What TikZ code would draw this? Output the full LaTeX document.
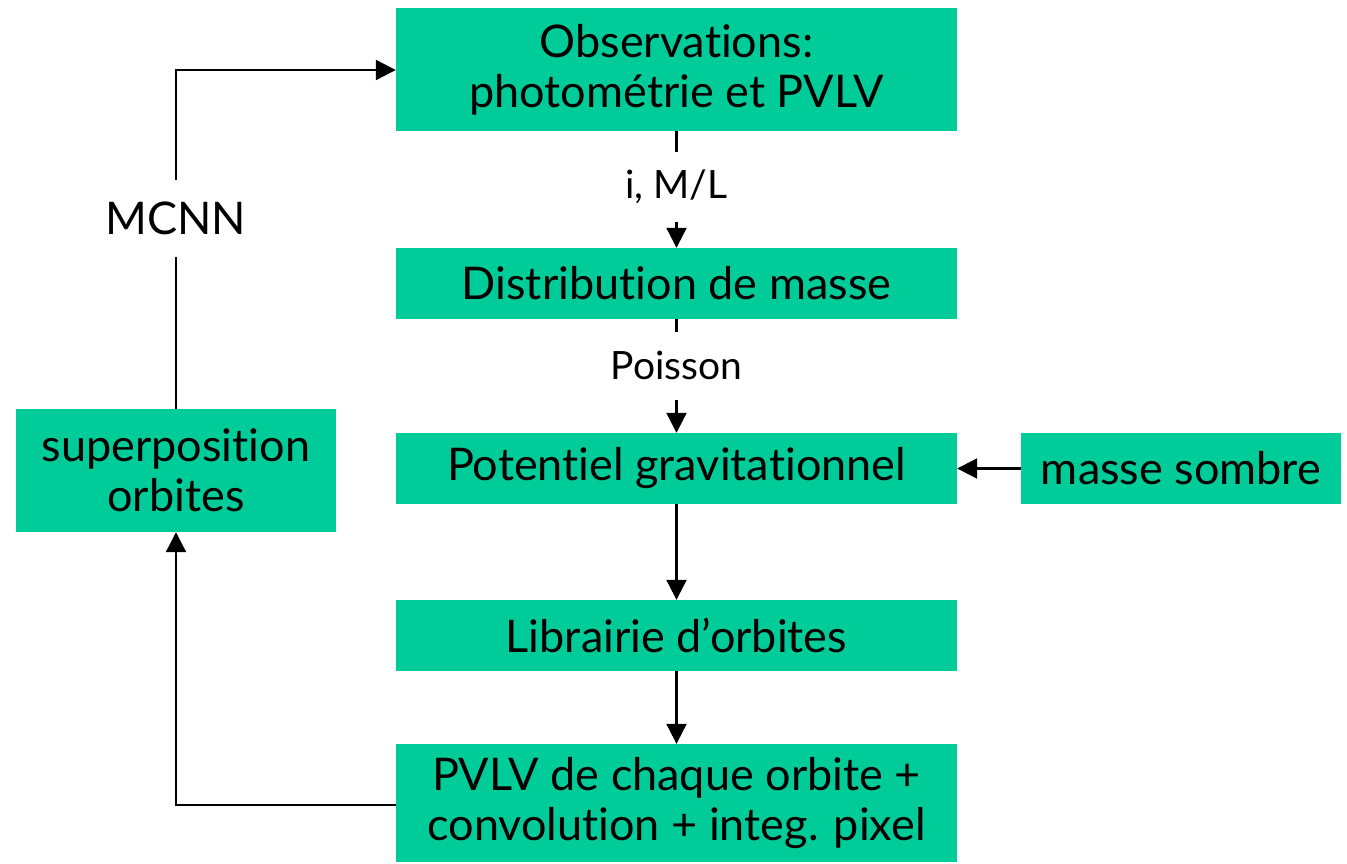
\documentclass[tikz,border=0pt]{standalone}
\usepackage{fontspec}
\setmainfont{Lato}[Ligatures=NoCommon]
\usetikzlibrary{arrows.meta}
\definecolor{boxgreen}{RGB}{0,204,153}
\begin{document}
\begin{tikzpicture}[x=1pt,y=-1pt,
  box/.style={fill=boxgreen,draw=none,minimum width=561pt,align=center,inner sep=0pt,
    font=\fontsize{45}{50}\selectfont},
  lab/.style={fill=white,inner xsep=2pt,font=\fontsize{39}{42}\selectfont},
  conn/.style={line width=2.2pt,-{Triangle[length=20pt,width=20pt]}},
  plain/.style={line width=2.2pt}]
\useasboundingbox (0,0) rectangle (1347,863);
\node[box,minimum height=123pt] (obs) at (676.5,69.5) {Observations:\\photométrie et PVLV};
\node[box,minimum height=71pt] (dist) at (676.5,283.5) {Distribution de masse};
\node[box,minimum height=71pt] (pot) at (676.5,468.5) {Potentiel gravitationnel};
\node[box,minimum height=71pt] (lib) at (676.5,635.5) {Librairie d’orbites};
\node[box,minimum height=118pt] (pvlv) at (676.5,803) {PVLV de chaque orbite +\\convolution + integ. pixel};
\node[box,minimum width=320pt,minimum height=71pt] (dark) at (1181,468.5) {masse sombre};
\node[box,minimum width=320pt,minimum height=123pt] (sup) at (176,470.5) {superposition\\orbites};
\coordinate (corner) at (176,70);
\draw[conn] (obs) -- node[lab,pos=0.48,minimum height=70pt] (l1) {i, M/L} (dist);
\draw[conn] (dist) -- node[lab,pos=0.41,minimum height=68pt] (l2) {Poisson} (pot);
\draw[conn] (pot) -- (lib);
\draw[conn] (lib) -- (pvlv);
\draw[conn] (dark) -- (pot);
\draw[conn] (pvlv.west |- 0,805) -| (sup.south);
\draw[conn] (sup.north) -- node[lab,pos=0.562,minimum height=77pt,font=\fontsize{45}{50}\selectfont] (l3) {MCNN} (corner) -- (obs.west |- corner);
\end{tikzpicture}
\end{document}
